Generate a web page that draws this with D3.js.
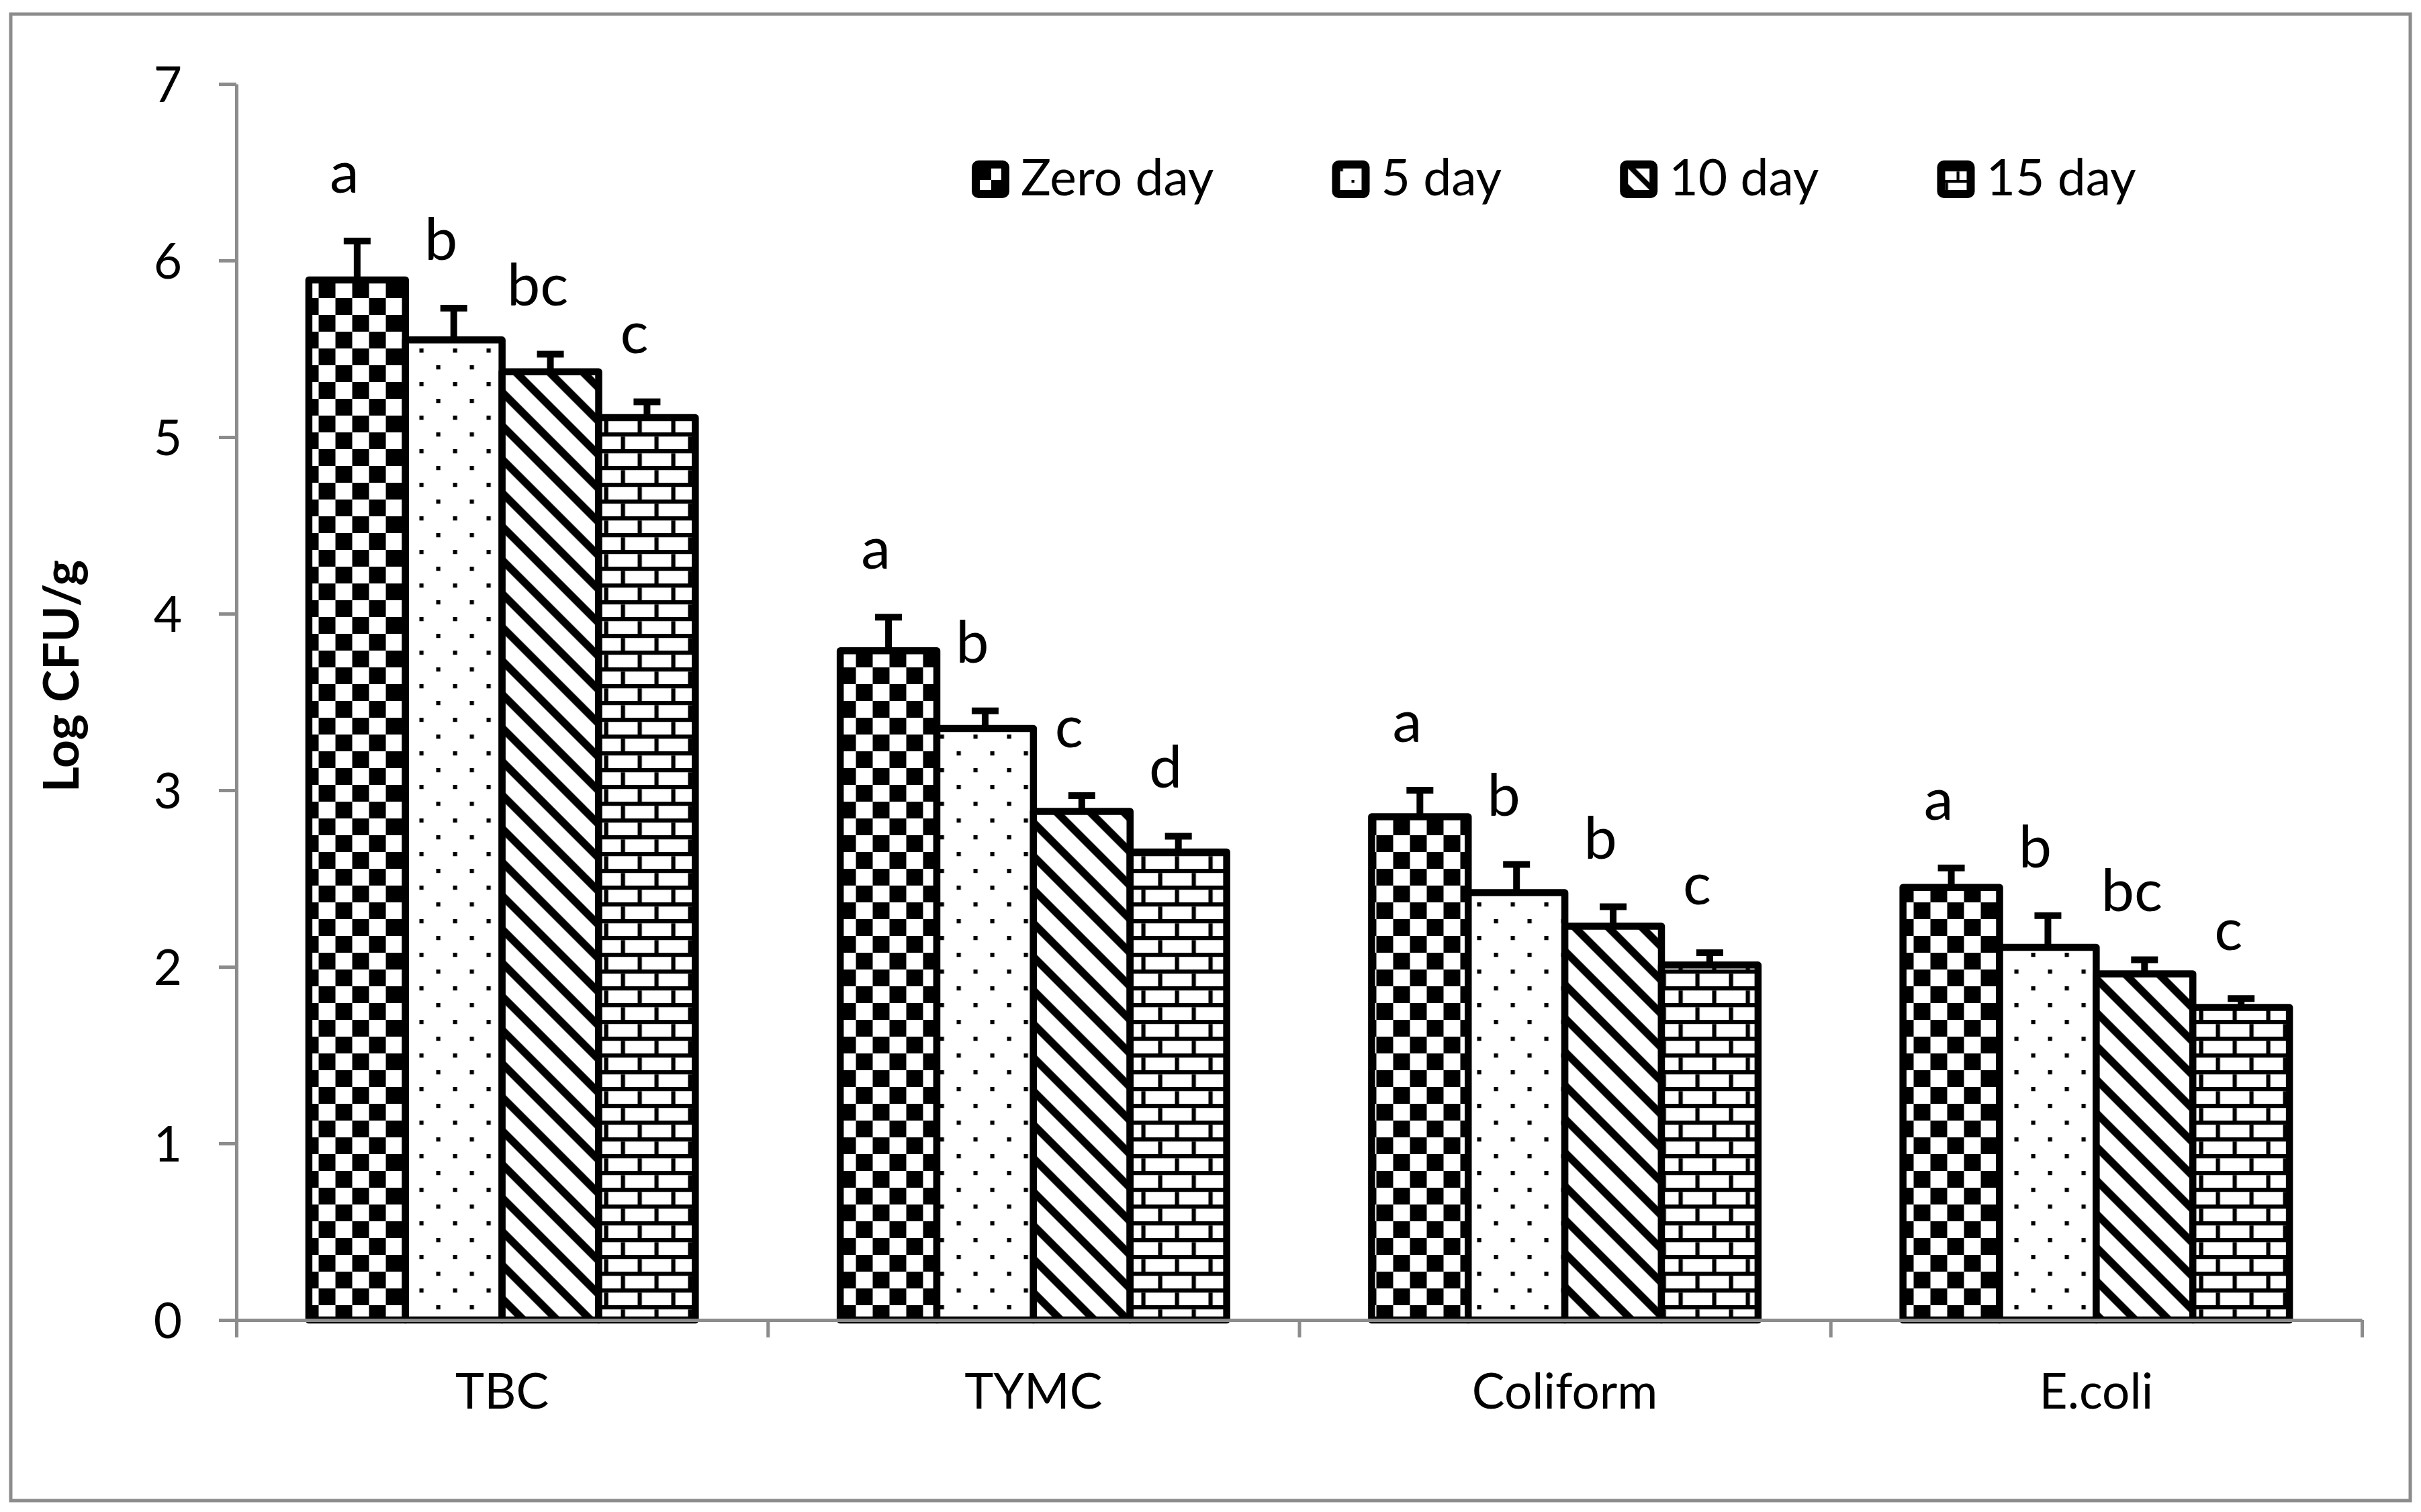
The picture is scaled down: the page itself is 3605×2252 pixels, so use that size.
<!DOCTYPE html>
<html>
<head>
<meta charset="utf-8">
<script src="https://cdn.jsdelivr.net/npm/d3@7"></script>
<style>
  html, body { margin: 0; padding: 0; background: #fff; }
  svg { display: block; }
  text { font-family: Lato, "Open Sans", sans-serif; fill: #000; }
</style>
</head>
<body>
<svg id="chart" width="3605" height="2252"></svg>
<script>
// chart values
const categories = ["TBC", "TYMC", "Coliform", "E.coli"];
const seriesNames = ["Zero day", "5 day", "10 day", "15 day"];
const zeroDay = [5.89, 3.79, 2.85, 2.45];
const day5 = [5.55, 3.35, 2.42, 2.11];
const day10 = [5.37, 2.88, 2.23, 1.96];
const day15 = [5.11, 2.65, 2.01, 1.77];
const errZero = [0.22, 0.19, 0.15, 0.11];
const err5 = [0.18, 0.10, 0.16, 0.18];
const err10 = [0.10, 0.09, 0.11, 0.08];
const err15 = [0.09, 0.09, 0.07, 0.05];
const lettersZero = ["a", "a", "a", "a"];
const letters5 = ["b", "b", "b", "b"];
const letters10 = ["bc", "c", "b", "bc"];
const letters15 = ["c", "d", "c", "c"];
const yTicks = [0, 1, 2, 3, 4, 5, 6, 7];

const seriesValues = [zeroDay, day5, day10, day15];
const seriesErrors = [errZero, err5, err10, err15];
const seriesLetters = [lettersZero, letters5, letters10, letters15];
const patternKinds = ["checker", "dots", "diag", "brick"];

const width = 3605;
const height = 2252;
const plot = { left: 352, right: 3517, top: 125, bottom: 1966 };
const axisGrey = "#8c8c8c";

const svg = d3.select("#chart");
const defs = svg.append("defs");

// Excel-like 8x8 fill patterns, s = size of one pattern pixel
function addPattern(id, kind, s, tx, ty) {
  const t = 8 * s;
  const p = defs.append("pattern")
    .attr("id", id)
    .attr("patternUnits", "userSpaceOnUse")
    .attr("width", t)
    .attr("height", t)
    .attr("patternTransform", `translate(${tx},${ty})`);
  p.append("rect").attr("width", t).attr("height", t).attr("fill", "#fff");
  const blk = (x, y, w, h) => p.append("rect")
    .attr("x", x).attr("y", y).attr("width", w).attr("height", h).attr("fill", "#000");
  if (kind === "checker") {
    blk(0, 0, 4 * s, 4 * s);
    blk(4 * s, 4 * s, 4 * s, 4 * s);
  } else if (kind === "dots") {
    blk(0, 0, s, s);
    blk(4 * s, 4 * s, s, s);
  } else if (kind === "diag") {
    const w = 2.6 * s;
    p.append("polygon").attr("fill", "#000")
      .attr("points", `0,0 ${w},0 ${t},${t - w} ${t},${t}`);
    p.append("polygon").attr("fill", "#000")
      .attr("points", `0,${t - w} ${w},${t} 0,${t}`);
  } else if (kind === "brick") {
    blk(0, 0, t, s);
    blk(0, 4 * s, t, s);
    blk(4 * s, s, s, 3 * s);
    blk(0, 5 * s, s, 3 * s);
  }
}

patternKinds.forEach(k => addPattern("bar-" + k, k, 6.25, 24.5, 19));

// outer chart border
svg.append("rect")
  .attr("x", 16).attr("y", 21)
  .attr("width", 3573).attr("height", 2214)
  .attr("fill", "none")
  .attr("stroke", axisGrey)
  .attr("stroke-width", 5);

// Scales
const x0 = d3.scaleBand()
  .domain(categories)
  .range([plot.left, plot.right])
  .paddingInner(1.5 / 5.5)
  .paddingOuter(0.75 / 5.5);

const x1 = d3.scaleBand()
  .domain(seriesNames)
  .range([0, x0.bandwidth()]);

const y = d3.scaleLinear()
  .domain([0, 7])
  .range([plot.bottom, plot.top]);

const rows = [];
seriesNames.forEach((s, si) => {
  categories.forEach((c, ci) => {
    rows.push({
      cat: c, series: s, si,
      value: seriesValues[si][ci],
      err: seriesErrors[si][ci],
      letter: seriesLetters[si][ci]
    });
  });
});

// Bars
svg.append("g").selectAll("rect")
  .data(rows)
  .enter()
  .append("rect")
  .attr("x", d => x0(d.cat) + x1(d.series))
  .attr("y", d => y(d.value))
  .attr("width", x1.bandwidth())
  .attr("height", d => y(0) - y(d.value))
  .attr("fill", d => `url(#bar-${patternKinds[d.si]})`)
  .attr("stroke", "#000")
  .attr("stroke-width", 10.5)
  .attr("stroke-linejoin", "round");

// Error bars (plus direction only)
const eb = svg.append("g").attr("stroke", "#000").attr("stroke-width", 10);
const cx = d => x0(d.cat) + x1(d.series) + x1.bandwidth() / 2;
eb.selectAll(".stem")
  .data(rows)
  .enter()
  .append("line")
  .attr("x1", cx).attr("x2", cx)
  .attr("y1", d => y(d.value))
  .attr("y2", d => y(d.value + d.err));
eb.selectAll(".cap")
  .data(rows)
  .enter()
  .append("line")
  .attr("x1", d => cx(d) - 20).attr("x2", d => cx(d) + 20)
  .attr("y1", d => y(d.value + d.err))
  .attr("y2", d => y(d.value + d.err));

// significance letters
svg.append("g").selectAll("text")
  .data(rows)
  .enter()
  .append("text")
  .attr("x", d => cx(d) - 19)
  .attr("y", d => y(d.value + d.err) - 72)
  .attr("text-anchor", "middle")
  .style("font-size", "88px")
  .text(d => d.letter);

// Axes
const yAxis = d3.axisLeft(y)
  .tickValues(yTicks)
  .tickFormat(d3.format("d"))
  .tickSize(26)
  .tickSizeOuter(0)
  .tickPadding(55);

const yg = svg.append("g")
  .attr("transform", `translate(${plot.left},0)`)
  .call(yAxis);

const xEdge = d3.scaleLinear().domain([0, categories.length]).range([plot.left, plot.right]);
const xg = svg.append("g")
  .attr("transform", `translate(0,${plot.bottom})`)
  .call(d3.axisBottom(xEdge).ticks(categories.length).tickSize(26).tickSizeOuter(0).tickFormat(""));

[yg, xg].forEach(g => {
  g.selectAll("path, line").attr("stroke", axisGrey).attr("stroke-width", 5);
  g.selectAll("text")
    .style("font-family", "Lato, 'Open Sans', sans-serif")
    .style("font-size", "73px")
    .attr("fill", "#000");
});
yg.selectAll("text").attr("dy", "0.36em");

// category labels
svg.append("g").selectAll("text")
  .data(categories)
  .enter()
  .append("text")
  .attr("x", d => x0(d) + x0.bandwidth() / 2)
  .attr("y", 2098)
  .attr("text-anchor", "middle")
  .style("font-size", "73px")
  .text(d => d);

// y axis title
svg.append("text")
  .attr("transform", "translate(117,1007) rotate(-90)")
  .attr("text-anchor", "middle")
  .style("font-size", "73px")
  .style("font-weight", "bold")
  .text("Log CFU/g");

// Legend
const legend = svg.append("g");
let lx = 1447;
seriesNames.forEach((name, i) => {
  const mx = lx + 6, my = 245;
  addPattern("leg-" + patternKinds[i], patternKinds[i], 4.25, mx + 6, my + 6);
  legend.append("rect")
    .attr("x", mx).attr("y", my)
    .attr("width", 44).attr("height", 44)
    .attr("rx", 4)
    .attr("fill", `url(#leg-${patternKinds[i]})`)
    .attr("stroke", "#000")
    .attr("stroke-width", 12)
    .attr("stroke-linejoin", "round");
  const t = legend.append("text")
    .attr("x", lx + 73)
    .attr("y", 291)
    .style("font-size", "75px")
    .text(name);
  lx += 73 + t.node().getComputedTextLength() + 176;
});
</script>
</body>
</html>
